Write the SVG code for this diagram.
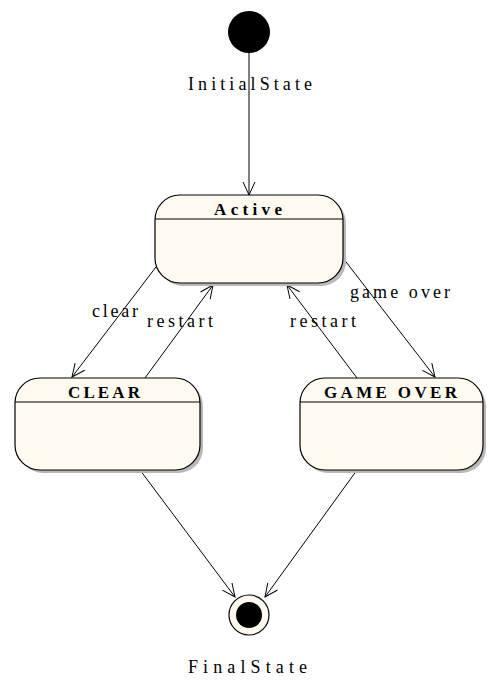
<svg xmlns="http://www.w3.org/2000/svg" width="500" height="689" viewBox="0 0 500 689">
<style>
.state{fill:#fffaf0;stroke:#000;stroke-width:1.2}
.shadow{fill:#b8b8b8}
.div{stroke:#000;stroke-width:1}
.name{font-family:"Liberation Serif",serif;font-weight:bold;font-size:17px;fill:#000}
.lbl{font-family:"Liberation Serif",serif;font-size:18px;fill:#000}
.conn{stroke:#000;stroke-width:1;fill:none;marker-end:url(#arr)}
</style>
<defs>
<marker id="arr" markerUnits="userSpaceOnUse" markerWidth="16" markerHeight="16" refX="14" refY="7" orient="auto">
<path d="M1,1 L14,7 L1,13" fill="none" stroke="#000" stroke-width="1"/>
</marker>
</defs>
<rect width="500" height="689" fill="#fff"/>
<g id="connectors">
<line class="conn" x1="249" y1="52" x2="249" y2="195"/>
<line class="conn" x1="156" y1="267" x2="72" y2="377"/>
<line class="conn" x1="145" y1="378" x2="213" y2="285"/>
<line class="conn" x1="357" y1="378" x2="287" y2="285"/>
<line class="conn" x1="343" y1="258" x2="435" y2="377"/>
<line class="conn" x1="140" y1="470" x2="235" y2="597"/>
<line class="conn" x1="357" y1="470" x2="265" y2="597"/>
<text class="lbl" x="92" y="317" textLength="46" lengthAdjust="spacing">clear</text>
<text class="lbl" x="147" y="327" textLength="66" lengthAdjust="spacing">restart</text>
<text class="lbl" x="350" y="298" textLength="100" lengthAdjust="spacing">game over</text>
<text class="lbl" x="290" y="327" textLength="66" lengthAdjust="spacing">restart</text>
</g>
<g id="initial">
<circle cx="249" cy="32" r="21" fill="#000"/>
<text class="lbl" x="188" y="90" textLength="124" lengthAdjust="spacing">InitialState</text>
</g>
<g id="active">
<rect class="shadow" x="158" y="198" width="188" height="88" rx="25"/>
<rect class="state" x="155" y="195" width="188" height="88" rx="25"/>
<line class="div" x1="155" y1="219" x2="343" y2="219"/>
<text class="name" x="214" y="215" textLength="68" lengthAdjust="spacing">Active</text>
</g>
<g id="clear">
<rect class="shadow" x="18" y="381" width="185" height="92" rx="25"/>
<rect class="state" x="15" y="378" width="185" height="92" rx="25"/>
<line class="div" x1="15" y1="402" x2="200" y2="402"/>
<text class="name" x="68" y="398" textLength="72" lengthAdjust="spacing">CLEAR</text>
</g>
<g id="gameover">
<rect class="shadow" x="303" y="381" width="183" height="92" rx="25"/>
<rect class="state" x="300" y="378" width="183" height="92" rx="25"/>
<line class="div" x1="300" y1="402" x2="483" y2="402"/>
<text class="name" x="324" y="398" textLength="133" lengthAdjust="spacing">GAME OVER</text>
</g>
<g id="final">
<circle cx="249" cy="615" r="20" fill="#fffaf0" stroke="#000" stroke-width="1.2"/>
<circle cx="249" cy="615" r="13" fill="#000"/>
<text class="lbl" x="188" y="673" textLength="119" lengthAdjust="spacing">FinalState</text>
</g>
</svg>
